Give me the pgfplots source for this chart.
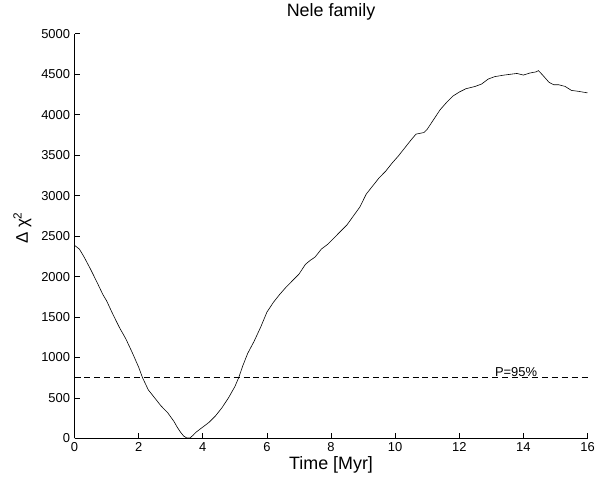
\documentclass[border=0pt]{standalone}
\usepackage{pgfplots}
\pgfplotsset{compat=1.18}
\usepackage{fontspec}
\setmainfont{Liberation Sans}
\begin{document}
\begin{tikzpicture}
\begin{axis}[
  scale only axis,
  width=516pt, height=407pt,
  xmin=0, xmax=16, ymin=0, ymax=5000,
  axis x line*=bottom, axis y line*=left,
  axis line style={line width=0.6pt},
  tick align=inside,
  major tick length=5pt,
  tick style={line width=0.6pt, black},
  xtick={0,2,...,16},
  ytick={0,500,...,5000},
  /pgf/number format/assume math mode=true,
  /pgf/number format/1000 sep={},
  ticklabel style={font=\fontsize{13}{15}\selectfont},
  yticklabel style={xshift=-1pt},
  xticklabel style={yshift=-1pt},
  clip=false,
]
\addplot[black, line width=0.6pt] coordinates {
(0.0,2385) (0.15,2340) (0.3,2240) (0.5,2090) (0.7,1930) (0.88,1780) (1.0,1700)
(1.2,1530) (1.4,1370) (1.6,1230) (1.8,1060) (2.0,880) (2.12,750) (2.3,600)
(2.5,500) (2.7,400) (2.9,320) (3.1,210) (3.2,140) (3.3,80) (3.4,30) (3.5,5)
(3.6,5) (3.7,40) (3.8,80) (4.0,140) (4.2,200) (4.4,280) (4.6,380) (4.8,500)
(5.0,640) (5.12,750) (5.25,900) (5.4,1050) (5.6,1200) (5.8,1370) (6.0,1560)
(6.2,1680) (6.4,1780) (6.6,1870) (6.8,1950) (7.0,2030) (7.2,2150) (7.35,2200)
(7.5,2240) (7.7,2340) (7.9,2400) (8.1,2480) (8.3,2560) (8.5,2640) (8.7,2750)
(8.9,2860) (9.1,3020) (9.3,3120) (9.5,3220) (9.7,3300) (9.9,3400) (10.1,3490)
(10.3,3590) (10.5,3690) (10.65,3760) (10.9,3780) (11.0,3820) (11.2,3940)
(11.4,4060) (11.6,4150) (11.8,4230) (12.0,4280) (12.2,4320) (12.5,4350)
(12.7,4380) (12.9,4440) (13.1,4470) (13.4,4490) (13.6,4500) (13.8,4510)
(14.0,4490) (14.2,4515) (14.4,4530) (14.47,4545) (14.6,4490) (14.8,4400)
(14.95,4370) (15.1,4370) (15.3,4350) (15.5,4300) (15.7,4290) (16.0,4270)
};
\addplot[black, line width=0.6pt, dash pattern=on 6pt off 4pt] coordinates {(0,750) (16,750)};
\node[anchor=base, font=\fontsize{13}{15}\selectfont] at (axis cs:13.77,765) {P=95\%};
\node[anchor=base, font=\fontsize{18}{20}\selectfont] at ([yshift=17pt]rel axis cs:0.5,1) {Nele family};
\node[anchor=base, font=\fontsize{18}{20}\selectfont] at ([yshift=-31pt]rel axis cs:0.5,0) {Time [Myr]};
\node[anchor=base, rotate=90, font=\fontsize{17}{20}\selectfont] at ([xshift=-47pt]rel axis cs:0,0.52) {Δ χ\textsuperscript{2}};
\coordinate (bl) at (rel axis cs:0,0);
\coordinate (tr) at (rel axis cs:1,1);
\end{axis}
\path ([shift={(-75pt,-46pt)}]bl) rectangle ([shift={(7pt,34pt)}]tr);
\end{tikzpicture}
\end{document}
